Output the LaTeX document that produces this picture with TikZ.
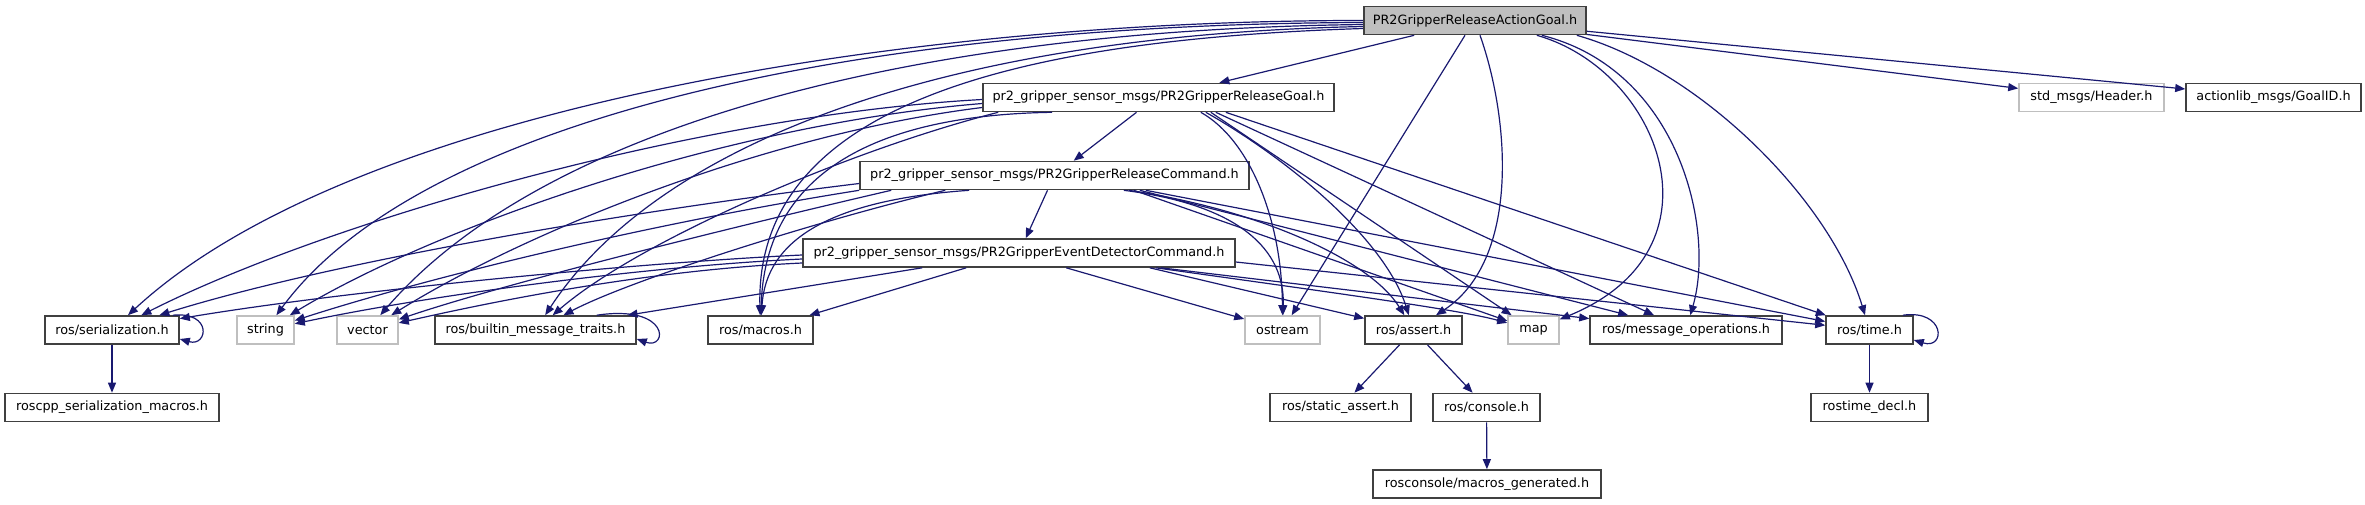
\documentclass[tikz,border=0pt]{standalone}
\usepackage{fontspec}
\setmainfont{DejaVu Sans}
\usetikzlibrary{arrows.meta}
\definecolor{edgeblue}{RGB}{25,25,112}
\definecolor{boxgray}{RGB}{191,191,191}
\definecolor{framedark}{RGB}{64,64,64}
\begin{document}
\begin{tikzpicture}[
    x=0.5pt, y=-0.5pt,
    hdr/.style={draw=framedark, line width=0.8pt, fill=white, inner sep=0pt, minimum height=14pt, font=\fontsize{6.4}{7.7}\selectfont},
    syshdr/.style={hdr, draw=boxgray},
    rootfile/.style={hdr, fill=boxgray},
    arrow/.style={-{Triangle[length=5pt,width=4pt]}, draw=edgeblue, line width=0.6pt}
]
\useasboundingbox (0,0) rectangle (2365,504);

\node[rootfile, minimum width=111pt] (root) at (1475,20.5) {PR2GripperReleaseActionGoal.h};
\node[hdr, minimum width=175.5pt] (goal) at (1158.5,97.5) {pr2\_gripper\_sensor\_msgs/PR2GripperReleaseGoal.h};
\node[syshdr, minimum width=72.5pt] (header) at (2091.5,97.5) {std\_msgs/Header.h};
\node[hdr, minimum width=87.5pt] (goalid) at (2273.5,97.5) {actionlib\_msgs/GoalID.h};
\node[hdr, minimum width=194.5pt] (command) at (1054.5,175.5) {pr2\_gripper\_sensor\_msgs/PR2GripperReleaseCommand.h};
\node[hdr, minimum width=216pt] (event) at (1019,253) {pr2\_gripper\_sensor\_msgs/PR2GripperEventDetectorCommand.h};
\node[hdr, minimum width=67pt] (serial) at (112,330) {ros/serialization.h};
\node[syshdr, minimum width=28.5pt] (string) at (265.5,330) {string};
\node[syshdr, minimum width=30.5pt] (vector) at (367.5,330) {vector};
\node[hdr, minimum width=100.5pt] (builtin) at (535.5,330) {ros/builtin\_message\_traits.h};
\node[hdr, minimum width=52.5pt] (macros) at (760.5,330) {ros/macros.h};
\node[syshdr, minimum width=37.5pt] (ostream) at (1282.5,330) {ostream};
\node[hdr, minimum width=48.5pt] (assert) at (1413.5,330) {ros/assert.h};
\node[syshdr, minimum width=25.5pt] (map) at (1533.5,330) {map};
\node[hdr, minimum width=96pt] (msgops) at (1686,330) {ros/message\_operations.h};
\node[hdr, minimum width=43.5pt] (time) at (1869.5,330) {ros/time.h};
\node[hdr, minimum width=107pt] (serialmacros) at (112,407.5) {roscpp\_serialization\_macros.h};
\node[hdr, minimum width=70.5pt] (staticassert) at (1340.5,407.5) {ros/static\_assert.h};
\node[hdr, minimum width=53.5pt] (console) at (1486.5,407.5) {ros/console.h};
\node[hdr, minimum width=58.5pt] (timedecl) at (1869.5,407.5) {rostime\_decl.h};
\node[hdr, minimum width=114pt] (macrosgen) at (1487,484) {rosconsole/macros\_generated.h};

\draw[arrow] (root) -- (goal);
\draw[arrow] (root) -- (header);
\draw[arrow] (root) -- (goalid);
\draw[arrow] (root.west) .. controls (900,20) and (350,110) .. (serial);
\draw[arrow] ([yshift=-1pt]root.west) .. controls (850,24) and (420,120) .. (string);
\draw[arrow] ([yshift=-2pt]root.west) .. controls (900,30) and (540,130) .. (vector);
\draw[arrow] ([yshift=-3pt]root.west) .. controls (950,35) and (660,140) .. (builtin);
\draw[arrow] ([yshift=-4pt]root.west) .. controls (1000,40) and (755,110) .. (macros);
\draw[arrow] ([xshift=-5pt]root.south) -- (ostream);
\draw[arrow] ([xshift=2.5pt]root.south) .. controls (1510,120) and (1520,260) .. (assert);
\draw[arrow] ([xshift=-25pt]root.south east) .. controls (1660,70) and (1730,250) .. (map);
\draw[arrow] ([xshift=-22.5pt]root.south east) .. controls (1680,70) and (1715,230) .. (msgops);
\draw[arrow] ([xshift=-5pt]root.south east) .. controls (1700,70) and (1830,200) .. (time);

\draw[arrow] ([xshift=-11pt]goal.south) -- (command);
\draw[arrow] ([yshift=-1pt]goal.west) .. controls (700,115) and (330,220) .. (serial);
\draw[arrow] ([yshift=-3pt]goal.west) .. controls (720,125) and (430,230) .. (string);
\draw[arrow] ([yshift=-5pt]goal.west) .. controls (760,135) and (520,235) .. (vector);
\draw[arrow] ([xshift=8pt]goal.south west) .. controls (850,150) and (640,240) .. (builtin);
\draw[arrow] ([xshift=35pt]goal.south west) .. controls (880,115) and (765,170) .. (macros);
\draw[arrow] ([xshift=-67pt]goal.south east) .. controls (1250,140) and (1282,220) .. (ostream);
\draw[arrow] ([xshift=-64.5pt]goal.south east) .. controls (1290,160) and (1385,240) .. (assert);
\draw[arrow] ([xshift=-62pt]goal.south east) -- (map);
\draw[arrow] ([xshift=-59.5pt]goal.south east) -- (msgops);
\draw[arrow] ([xshift=-54.5pt]goal.south east) -- (time);

\draw[arrow] ([xshift=-3.5pt]command.south) -- (event);
\draw[arrow] ([yshift=-4pt]command.west) .. controls (600,215) and (320,265) .. (serial);
\draw[arrow] (command.south west) .. controls (640,225) and (420,280) .. (string);
\draw[arrow] ([xshift=16pt]command.south west) .. controls (720,230) and (500,285) .. (vector);
\draw[arrow] ([xshift=43pt]command.south west) .. controls (820,220) and (630,280) .. (builtin);
\draw[arrow] ([xshift=55pt]command.south west) .. controls (830,200) and (766,240) .. (macros);
\draw[arrow] ([xshift=-63pt]command.south east) .. controls (1240,205) and (1285,250) .. (ostream);
\draw[arrow] ([xshift=-60.5pt]command.south east) .. controls (1260,210) and (1370,260) .. (assert);
\draw[arrow] ([xshift=-58pt]command.south east) -- (map);
\draw[arrow] ([xshift=-55pt]command.south east) -- (msgops);
\draw[arrow] ([xshift=-52pt]command.south east) -- (time);

\draw[arrow] ([yshift=-1pt]event.west) .. controls (650,262) and (350,290) .. (serial);
\draw[arrow] ([yshift=-3pt]event.west) .. controls (650,266) and (430,295) .. (string);
\draw[arrow] ([yshift=-5pt]event.west) .. controls (650,270) and (500,300) .. (vector);
\draw[arrow] ([xshift=60pt]event.south west) -- (builtin);
\draw[arrow] ([xshift=82pt]event.south west) -- (macros);
\draw[arrow] ([xshift=132pt]event.south west) -- (ostream);
\draw[arrow] ([xshift=-43pt]event.south east) -- (assert);
\draw[arrow] ([xshift=-40pt]event.south east) .. controls (1350,295) and (1460,310) .. (map);
\draw[arrow] ([xshift=-37.5pt]event.south east) -- (msgops);
\draw[arrow] ([yshift=-4.5pt]event.east) -- (time);

\draw[arrow] ([xshift=-3.5pt]serial.north east) .. controls +(40,-4) and +(28,8) .. ([yshift=-4.5pt]serial.east);
\draw[arrow] ([xshift=-20pt]builtin.north east) .. controls +(74,-11) and +(31,11) .. ([yshift=-4.5pt]builtin.east);
\draw[arrow] ([xshift=-5.5pt]time.north east) .. controls +(43,-6) and +(32,10) .. ([yshift=-5pt]time.east);

\draw[arrow] (serial) -- (serialmacros);
\draw[arrow] (assert) -- (staticassert);
\draw[arrow] (assert) -- (console);
\draw[arrow] (console) -- (macrosgen);
\draw[arrow] (time) -- (timedecl);
\end{tikzpicture}
\end{document}
